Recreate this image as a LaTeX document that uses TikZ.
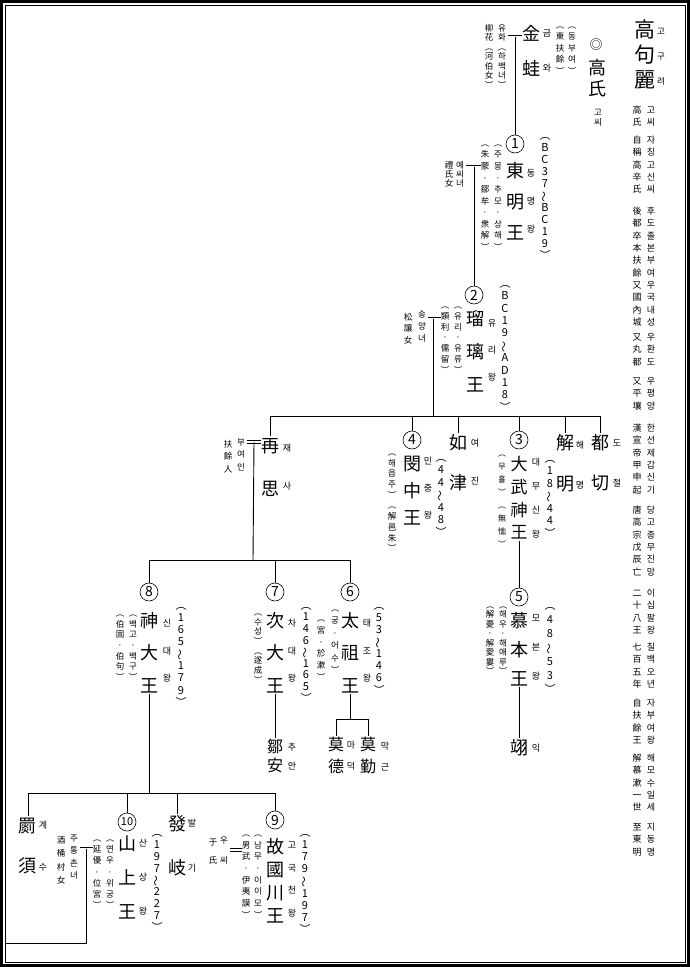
\documentclass[tikz,border=0pt]{standalone}
\usepackage{fontspec}
\setmainfont{Noto Sans CJK KR}
\makeatletter
% vertical text: #1 = pitch (pt), #2 = characters
\newcommand\vs[2]{\vbox{\baselineskip=#1pt\lineskiplimit=-1000pt\lineskip=0pt
  \edef\vs@list{#2}%
  \expandafter\@tfor\expandafter\vs@c\expandafter:\expandafter=\vs@list\do{%
    \hbox to 1em{\hss\vrule height .88em depth .12em width 0pt\vs@c\hss}}}}
\makeatother
\protected\def\wav{\rotatebox[origin=c]{90}{～}}
% \vcol[opts]{name}{x}{y of first char}{pitch}{size}{chars}
\newcommand\vcol[7][]{\node[inner sep=0pt,anchor=north,font=\fontsize{#6}{#6}\selectfont,#1] (#2) at (#3,{#4-#6/2}) {\vs{#5}{#7}};}
\tikzset{
  num/.style={draw,circle,minimum size=18pt,inner sep=0pt,line width=0.6pt,font=\fontsize{14}{14}\selectfont},
  ln/.style={line width=0.9pt},
  eq/.style={double,double distance=2pt,line width=0.6pt,shorten <=2pt},
}
\begin{document}
\begin{tikzpicture}[x=1pt,y=-1pt]
\useasboundingbox (0,0) rectangle (690,967);
\draw[line width=3pt] (1.5,1.5) rectangle (688.5,965.5);
\draw[line width=0.6pt] (5,5) rectangle (685,962);

% title and notes
\vcol{goguryeo}{645}{29}{25}{21}{高句麗}
\vcol{goguryeo-r}{661}{31}{25}{8.5}{고구려}
\foreach \n/\y/\a/\b in {1/110/高氏/고씨, 2/140/自稱高辛氏/자칭고신씨,
  3/211/後都卒本扶餘又國內城/후도졸본부여우국내성, 4/337/又丸都/우환도,
  5/381/又平壤/우평양, 6/428/漢宣帝甲申起/한선제갑신기, 7/510/唐高宗戊辰亡/당고종무진망,
  8/593/二十八王/이십팔왕, 9/647/七百五年/칠백오년, 10/703/自扶餘王/자부여왕,
  11/758/解慕漱一世/해모수일세, 12/827/至東明/지동명} {
  \vcol{note\n}{637}{\y}{12.3}{9}{\a}
  \vcol{note\n-r}{651}{\y}{12.3}{9}{\b}
}

% Go clan, Kumwa
\node[font=\fontsize{13}{13}\selectfont] (goshi-o) at (596,45) {◎};
\vcol{goshi}{597}{67}{21}{18}{高氏}
\vcol{goshi-r}{598}{112}{10}{8.5}{고씨}
\vcol{kumwa}{531}{33}{35}{18}{金蛙}
\vcol{kumwa-r}{547}{33}{35}{9}{금와}
\vcol{kumwa-a}{560}{25}{11.5}{8.5}{︵東扶餘︶}
\vcol{kumwa-h}{572}{25}{11.5}{8.5}{︵동부여︶}
\vcol{yuhwa}{489}{28}{9.5}{8.5}{柳花︵河伯女︶}
\vcol{yuhwa-r}{502}{28}{9.5}{8.5}{유화︵하백녀︶}
\coordinate (eq1) at (516,36.5);

% 1 Dongmyeong
\node[num] (c1) at (515,144) {1};
\vcol{dongmyeong}{515}{170}{31}{18}{東明王}
\vcol{dongmyeong-r}{531}{173}{28}{9}{동명왕}
\vcol{dongmyeong-d}{545}{135}{12}{11}{︵BC37\wav BC19︶}
\vcol{dongmyeong-a}{485}{143}{11.55}{8.5}{︵朱蒙·鄒牟·衆解︶}
\vcol{dongmyeong-h}{498}{143}{11.55}{8.5}{︵주몽·추모·상해︶}
\vcol{yesi}{449}{165}{9}{8.5}{禮氏女}
\vcol{yesi-r}{460}{165}{9}{8.5}{예씨녀}
\coordinate (eq2) at (474,166.5);

% 2 Yuri
\node[num] (c2) at (474,295) {2};
\vcol{yuri}{475}{318}{33}{18}{瑠璃王}
\vcol{yuri-r}{492}{323}{27}{9}{유리왕}
\vcol{yuri-d}{505}{283}{12.4}{11}{︵BC19\wav AD18︶}
\vcol{yuri-a}{445}{305}{10.8}{8.5}{︵類利·儒留︶}
\vcol{yuri-h}{458}{305}{10.8}{8.5}{︵유리·유류︶}
\vcol{songyang}{408}{317}{11.5}{8.5}{松讓女}
\vcol{songyang-r}{422}{314}{12}{8.5}{송양녀}
\coordinate (eq3) at (433,318.5);
\coordinate (b1) at (433,416);

% sons of Yuri
\vcol{jaesa}{270}{445}{43}{18}{再思}
\vcol{jaesa-r}{287}{448}{38}{9}{재사}
\vcol{buyeoin}{228}{444}{12.5}{8.5}{扶餘人}
\vcol{buyeoin-r}{241}{442}{12.5}{8.5}{부여인}
\coordinate (eq4) at (254,442);
\node[num] (c4) at (412,440) {4};
\vcol{minjung}{412}{463}{27}{18}{閔中王}
\vcol{minjung-r}{428}{461}{27}{9}{민중왕}
\vcol{minjung-d}{441}{457}{12.5}{11}{︵44\wav 48︶}
\vcol{minjung-a}{392}{452}{10.7}{8.5}{︵해읍주︶︵解邑朱︶}
\vcol{yeojin}{458}{442}{40}{18}{如津}
\vcol{yeojin-r}{475}{443}{38}{9}{여진}
\node[num] (c3) at (519,440) {3};
\vcol{daemusin}{519}{464}{22.7}{17}{大武神王}
\vcol{daemusin-r}{536}{462}{24}{9}{대무신왕}
\vcol{daemusin-d}{550}{458}{12.5}{11}{︵18\wav 44︶}
\vcol{daemusin-a}{502}{453}{13}{8}{︵무휼︶︵無恤︶}
\vcol{haemyeong}{565}{442}{41}{18}{解明}
\vcol{haemyeong-r}{580}{445}{40}{9}{해명}
\vcol{dojeol}{600}{442}{40}{18}{都切}
\vcol{dojeol-r}{617}{443}{40}{9}{도절}

% 5 Mobon
\node[num] (c5) at (519,597) {5};
\vcol{mobon}{519}{620}{29}{18}{慕本王}
\vcol{mobon-r}{536}{618}{29}{9}{모본왕}
\vcol{mobon-d}{550}{605}{14}{11}{︵48\wav 53︶}
\vcol{mobon-a}{490}{605}{9.5}{8.5}{︵解憂·解愛婁︶}
\vcol{mobon-h}{503}{605}{9.5}{8.5}{︵해우·해애루︶}
\vcol{ik}{519}{747}{20}{18}{翊}
\vcol{ik-r}{536}{748}{20}{9}{익}

% sons of Jaesa
\coordinate (b2) at (253,560);
\node[num] (c8) at (149,592) {8};
\vcol{sindae}{149}{620}{32.5}{18}{神大王}
\vcol{sindae-r}{167}{623}{27.5}{9}{신대왕}
\vcol{sindae-d}{181}{605}{12.1}{11}{︵165\wav 179︶}
\vcol{sindae-a}{120}{613}{10.7}{8.5}{︵伯固·伯句︶}
\vcol{sindae-h}{133}{613}{10.7}{8.5}{︵백고·백구︶}
\node[num] (c7) at (275,592) {7};
\vcol{chadae}{275}{620}{32.5}{18}{次大王}
\vcol{chadae-r}{292}{623}{27.5}{9}{차대왕}
\vcol{chadae-d}{306}{605}{11.6}{11}{︵146\wav 165︶}
\vcol{chadae-a}{258}{612}{9.7}{8.5}{︵수성︶︵遂成︶}
\node[num] (c6) at (350,592) {6};
\vcol{taejo}{350}{620}{32.5}{18}{太祖王}
\vcol{taejo-r}{367}{623}{27.5}{9}{태조왕}
\vcol{taejo-d}{379}{605}{12.1}{11}{︵53\wav 146︶}
\vcol{taejo-a}{321}{618}{11.8}{8.5}{︵宮·於漱︶}
\vcol{taejo-h}{335}{608}{12.4}{8.5}{︵궁·어수︶}
\vcol{chuan}{275}{746}{19}{16}{鄒安}
\vcol{chuan-r}{292}{747}{19}{9}{추안}
\coordinate (b3) at (350,719);
\vcol{makdeok}{336}{744}{22}{16}{莫德}
\vcol{makdeok-r}{351}{745}{21}{9}{마덕}
\vcol{makgeun}{368}{744}{22}{16}{莫勤}
\vcol{makgeun-r}{385}{746}{21}{9}{막근}

% sons of Sindae
\coordinate (b4) at (149,793);
\vcol{gyesu}{28}{825}{40}{18}{罽須}
\vcol{gyesu-r}{43}{825}{42}{9}{계수}
\node[num,font=\fontsize{11}{11}\selectfont] (c10) at (127,822) {10};
\vcol{sansang}{127}{843}{34}{18}{山上王}
\vcol{sansang-r}{143}{843}{34}{9}{산상왕}
\vcol{sansang-d}{157}{832}{11.9}{11}{︵197\wav 227︶}
\vcol{sansang-a}{97}{838}{11.2}{8.5}{︵延優·位宮︶}
\vcol{sansang-h}{110}{838}{11.2}{8.5}{︵연우·위궁︶}
\vcol{jutong}{61}{840}{13.3}{8.5}{酒桶村女}
\vcol{jutong-r}{74}{838}{12.5}{8.5}{주통촌녀}
\coordinate (eq5) at (86,848.5);
\coordinate (off) at (6,943);
\vcol{balgi}{177}{823}{44}{18}{發岐}
\vcol{balgi-r}{192}{823}{45}{9}{발기}
\node[num] (c9) at (275,820) {9};
\vcol{gogukcheon}{275}{846}{23}{18}{故國川王}
\vcol{gogukcheon-r}{292}{845}{22.5}{9}{고국천왕}
\vcol{gogukcheon-d}{305}{832}{12.2}{11}{︵179\wav 197︶}
\vcol{gogukcheon-a}{246}{833}{11.7}{8.5}{︵男武·伊夷謨︶}
\vcol{gogukcheon-h}{258}{833}{11.7}{8.5}{︵남무·이이모︶}
\vcol{usi}{213}{842}{18}{8.5}{于氏}
\vcol{usi-r}{224}{840}{20}{8.5}{우씨}
\coordinate (eq6) at (235,850);

% lines
\draw[eq] (yuhwa-r.east |- eq1) -- (kumwa.west |- eq1);
\draw[ln] (c1 |- eq1) -- (c1);
\draw[eq] (yesi-r.east |- eq2) -- (dongmyeong-a.west |- eq2);
\draw[ln] (c2 |- eq2) -- (c2);
\draw[eq] (songyang-r.east |- eq3) -- (yuri-a.west |- eq3);
\draw[ln] (eq3) -- (b1);
\draw[ln] (jaesa.north |- b1) -- (dojeol.north |- b1);
\foreach \n in {jaesa, c4, yeojin, c3, haemyeong, dojeol}
  \draw[ln] (\n.north |- b1) -- (\n.north);
\draw[eq] (buyeoin-r.east |- eq4) -- (jaesa.west |- eq4);
\draw[ln] (eq4) -- (b2);
\draw[ln] (c8.north |- b2) -- (c6.north |- b2);
\foreach \n in {c8, c7, c6}
  \draw[ln] (\n.north |- b2) -- (\n.north);
\draw[ln] (daemusin.south) -- (c5.north);
\draw[ln] (mobon.south) -- (ik.north);
\draw[ln] (chadae.south) -- (chuan.north);
\draw[ln] (taejo.south) -- (b3);
\draw[ln] (makdeok.north |- b3) -- (makgeun.north |- b3);
\foreach \n in {makdeok, makgeun}
  \draw[ln] (\n.north |- b3) -- (\n.north);
\draw[ln] (sindae.south) -- (b4);
\draw[ln] (gyesu.north |- b4) -- (c9.north |- b4);
\foreach \n in {gyesu, c10, balgi, c9}
  \draw[ln] (\n.north |- b4) -- (\n.north);
\draw[eq] (jutong-r.east |- eq5) -- (sansang-a.west |- eq5);
\draw[ln] (eq5) |- (off);
\draw[eq] (usi-r.east |- eq6) -- (gogukcheon-a.west |- eq6);
\end{tikzpicture}
\end{document}
